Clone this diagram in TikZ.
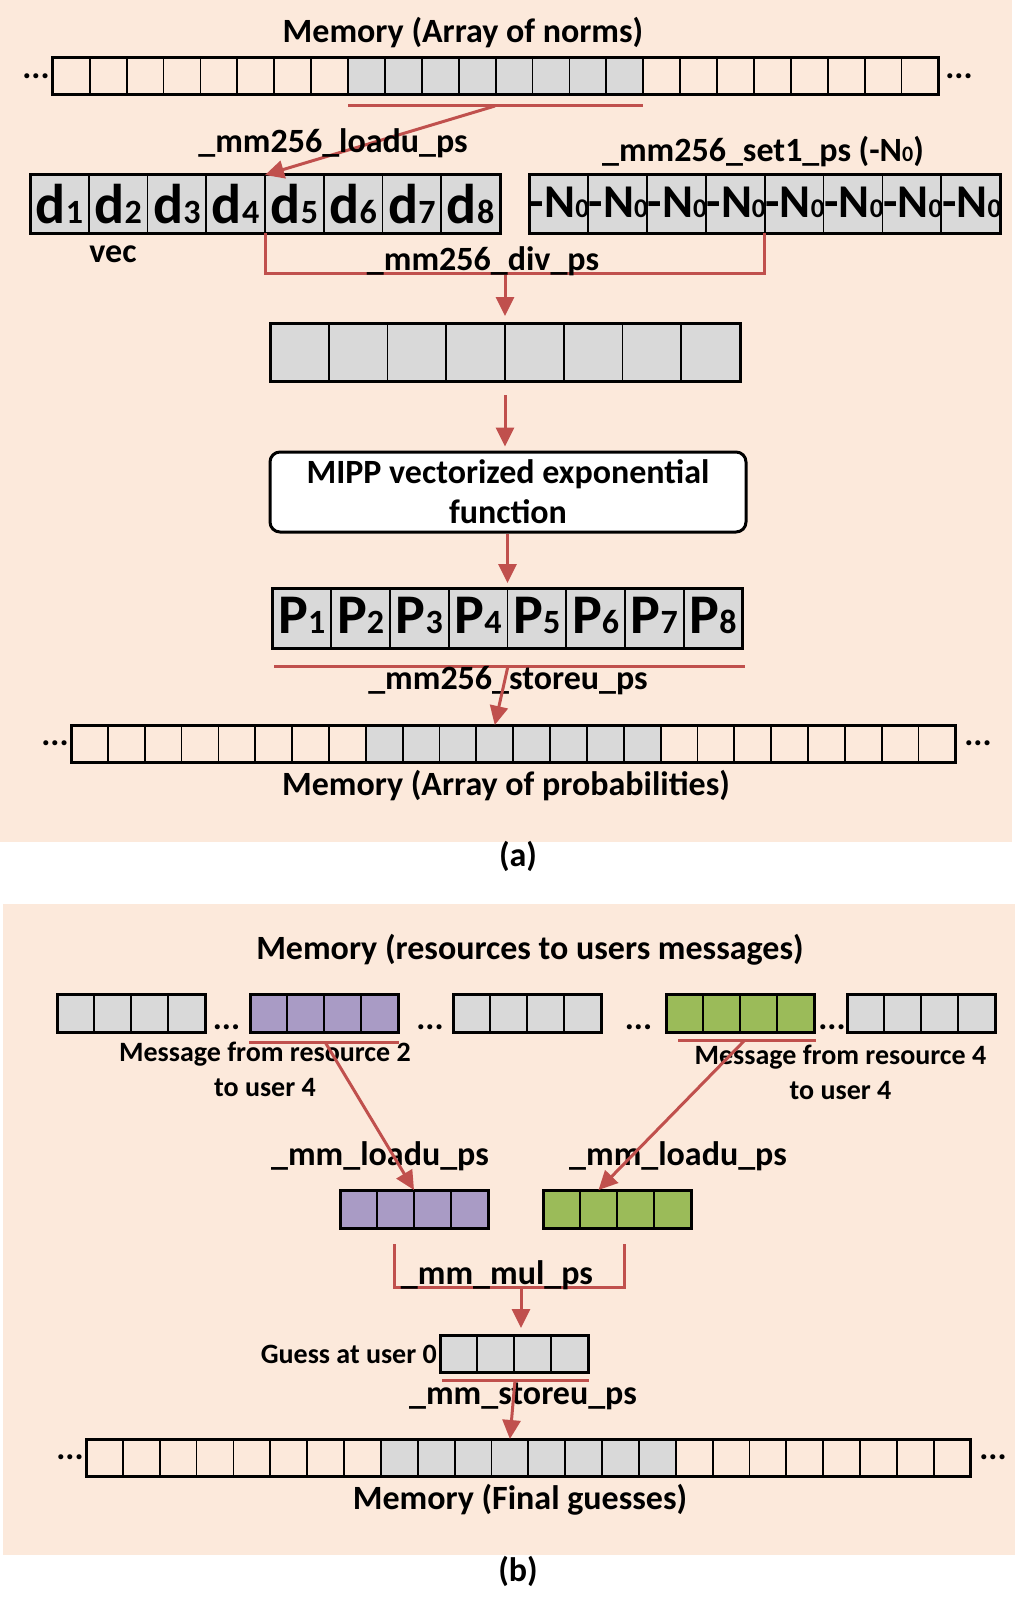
\documentclass[tikz,border=0pt]{standalone}
\usepackage{fontspec}
\setmainfont{Carlito}
\usetikzlibrary{arrows.meta,calc}
\definecolor{peach}{HTML}{FCE9DB}
\definecolor{cellgrey}{HTML}{D9D9D9}
\definecolor{purp}{HTML}{A99BC5}
\definecolor{grn}{HTML}{9BBB59}
\definecolor{redl}{HTML}{C0504D}
\tikzset{
  cellbox/.style={draw=black,line width=1.8pt,inner sep=0pt,outer sep=0pt},
  outerbox/.style={draw=black,line width=3pt},
  redline/.style={draw=redl,line width=3pt},
  redarrow/.style={draw=redl,line width=3pt,-{Triangle[length=19pt,width=18pt]}},
  lbl/.style={font=\fontsize{34}{40}\selectfont\bfseries,inner sep=0pt,align=center},
  smalllbl/.style={font=\fontsize{28}{35}\selectfont\bfseries,inner sep=0pt,align=center},
  biglbl/.style={font=\fontsize{56}{56}\selectfont\bfseries,inner sep=0pt},
  nlbl/.style={font=\fontsize{47}{47}\selectfont\bfseries,inner sep=0pt},
  dotlbl/.style={font=\fontsize{34}{34}\selectfont\bfseries,inner sep=0pt},
  mippbox/.style={draw=black,line width=3pt,rounded corners=10pt,fill=white,minimum width=476pt,minimum height=80pt,inner sep=0pt,align=center,font=\fontsize{34}{40}\selectfont\bfseries},
}
\newcommand{\cellrow}[7]{%
  \foreach \k in {1,...,#6}{%
    \node[cellbox,fill=#7,minimum width=#4pt,minimum height=#5pt,anchor=north west] (#1-\k) at ({#2+(\k-1)*#4},#3) {};
  }%
  \draw[outerbox] (#1-1.north west) rectangle (#1-#6.south east);
}
\newcommand{\memrow}[4]{%
  \foreach \k in {1,...,24}{%
    \ifnum\k>8 \ifnum\k<17 \def\fc{cellgrey}\else\def\fc{none}\fi\else\def\fc{none}\fi
    \node[cellbox,fill=\fc,minimum width=#4pt,minimum height=37pt,anchor=north west] (#1-\k) at ({#2+(\k-1)*#4},#3) {};
  }%
  \draw[outerbox] (#1-1.north west) rectangle (#1-24.south east);
}
\newcommand{\subsz}[1]{{\fontsize{34}{34}\selectfont #1}}
\newcommand{\subn}[1]{{\fontsize{27}{27}\selectfont #1}}
\begin{document}
\begin{tikzpicture}[x=1pt,y=-1pt]
\useasboundingbox (0,0) rectangle (1024,1608);
\fill[peach] (0,0) rectangle (1012,842);
\fill[peach] (3,904) rectangle (1015,1555);

% ---------------- panel (a)
\node[lbl,anchor=base] (titleA) at (463,43) {Memory (Array of norms)};
\memrow{ma}{52.8}{58}{36.9}
\node[dotlbl] (maL) at (36,76) {...};
\node[dotlbl] (maR) at (959,76) {...};
\coordinate (barAl) at (348,106);
\coordinate (barAr) at (643,106);
\coordinate (barAm) at (495,106);
\draw[redline] (barAl) -- (barAr);

\cellrow{dv}{30}{175}{58.75}{58}{8}{cellgrey}
\foreach \k in {1,...,8}{\node[biglbl,anchor=base] (dt-\k) at ($(dv-\k.south)+(0,-10)$) {d\subsz{\k}};}
\cellrow{nv}{529}{175}{58.9}{58}{8}{cellgrey}
\begin{scope}
\clip (nv-1.north west) rectangle (nv-8.south east);
\foreach \k in {1,...,8}{\node[nlbl,anchor=base] (nt-\k) at ($(nv-\k.south)+(1,-15)$) {-N\subn{0}};}
\end{scope}
\draw[redarrow] (barAm) -- (dv-4.north east);
\node[lbl,anchor=base] (loadA) at (333,153) {\_mm256\_loadu\_ps};
\node[lbl,anchor=base] (setA) at (763,162) {\_mm256\_set1\_ps (-N{\fontsize{22}{22}\selectfont 0})};
\node[lbl,anchor=base] (vecA) at (113,262) {vec};

\coordinate (divL) at ($(dv-4.south east)+(0,40)$);
\coordinate (divR) at (nv-4.south east |- divL);
\coordinate (divM) at (505,273);
\draw[redline] (dv-4.south east) -- (divL) -- (divR) -- (nv-4.south east);
\cellrow{tv}{270}{323}{58.75}{58}{8}{cellgrey}
\draw[redarrow,shorten >=7pt] (divM) -- (tv-4.north east);
\node[lbl,anchor=base] (divA) at (483,270) {\_mm256\_div\_ps};

\node[mippbox] (mipp) at (508,492) {MIPP vectorized exponential\\function};
\draw[redarrow,shorten <=14pt,shorten >=4pt] (tv-4.south east) -- (tv-4.south east |- mipp.north);

\cellrow{pv}{272.5}{588}{58.75}{60}{8}{cellgrey}
\foreach \k in {1,...,8}{\node[biglbl,anchor=base] (pt-\k) at ($(pv-\k.south)+(0,-15)$) {P\subsz{\k}};}
\draw[redarrow,shorten >=5pt] (mipp.south -| pv-4.north east) -- (pv-4.north east);

\coordinate (barBl) at (274,666);
\coordinate (barBr) at (745,666);
\coordinate (barBm) at (508,666);
\draw[redline] (barBl) -- (barBr);
\memrow{mb}{71}{725}{36.85}
\node[dotlbl] (mbL) at (55,743) {...};
\node[dotlbl] (mbR) at (978,743) {...};
\node[lbl,anchor=base] (storeA) at (508,689) {\_mm256\_storeu\_ps};
\draw[redarrow] (barBm) -- (mb-12.north);
\node[lbl,anchor=base] (memA2) at (506,795) {Memory (Array of probabilities)};
\node[lbl,anchor=base] (capA) at (518,866) {(a)};

% ---------------- panel (b)
\node[lbl,anchor=base] (titleB) at (530,959) {Memory (resources to users messages)};
\cellrow{g1}{57}{994}{37}{38}{4}{cellgrey}
\node[dotlbl] (d1) at (226.5,1027) {...};
\cellrow{pu}{250}{994}{37}{38}{4}{purp}
\node[dotlbl] (d2) at (430,1027) {...};
\cellrow{g2}{453}{994}{37}{38}{4}{cellgrey}
\node[dotlbl] (d3) at (638.5,1027) {...};
\cellrow{gr}{666}{994}{37}{38}{4}{grn}
\node[dotlbl] (d4) at (832,1027) {...};
\cellrow{g3}{847}{994}{37}{38}{4}{cellgrey}

\node[smalllbl,anchor=base] (msg2) at (265,1096) {Message from resource 2\\to user 4};
\node[smalllbl,anchor=base] (msg4) at (840.5,1099) {Message from resource 4\\to user 4};
\coordinate (barCl) at (249,1042);
\coordinate (barCr) at (399,1042);
\coordinate (barCm) at (325,1042);
\coordinate (barDl) at (678,1040);
\coordinate (barDr) at (816,1040);
\coordinate (barDm) at (745,1040);
\draw[redline] (barCl) -- (barCr);
\draw[redline] (barDl) -- (barDr);

\node[lbl,anchor=base] (loadL) at (380,1165) {\_mm\_loadu\_ps};
\node[lbl,anchor=base] (loadR) at (678,1165) {\_mm\_loadu\_ps};
\cellrow{pv2}{340}{1190}{37}{38}{4}{purp}
\cellrow{gv2}{543}{1190}{37}{38}{4}{grn}
\draw[redarrow] (barCm) -- (pv2-2.north east);
\draw[redarrow] (barDm) -- (gv2-2.north);

\coordinate (mulLt) at (394,1244);
\coordinate (mulLb) at (394,1287);
\coordinate (mulRt) at (624,1244);
\coordinate (mulRb) at (624,1287);
\coordinate (mulM) at (521,1287);
\draw[redline] (mulLt) -- (mulLb) -- (mulRb) -- (mulRt);
\node[lbl,anchor=base] (mulB) at (497,1284) {\_mm\_mul\_ps};
\cellrow{gs}{440}{1335}{37}{37}{4}{cellgrey}
\draw[redarrow,shorten >=7pt] (mulM) -- (mulM |- gs-1.north);
\node[smalllbl,anchor=base east] (guess) at (437,1363) {Guess at user 0};

\coordinate (barEl) at (442,1380);
\coordinate (barEr) at (589,1380);
\coordinate (barEm) at (515,1380);
\draw[redline] (barEl) -- (barEr);
\memrow{mc}{86}{1439}{36.86}
\node[dotlbl] (mcL) at (70,1457) {...};
\node[dotlbl] (mcR) at (993,1457) {...};
\node[lbl,anchor=base] (storeB) at (523,1404) {\_mm\_storeu\_ps};
\draw[redarrow] (barEm) -- (mc-12.north);
\node[lbl,anchor=base] (memB) at (520,1509) {Memory (Final guesses)};
\node[lbl,anchor=base] (capB) at (518,1581) {(b)};
\end{tikzpicture}
\end{document}
